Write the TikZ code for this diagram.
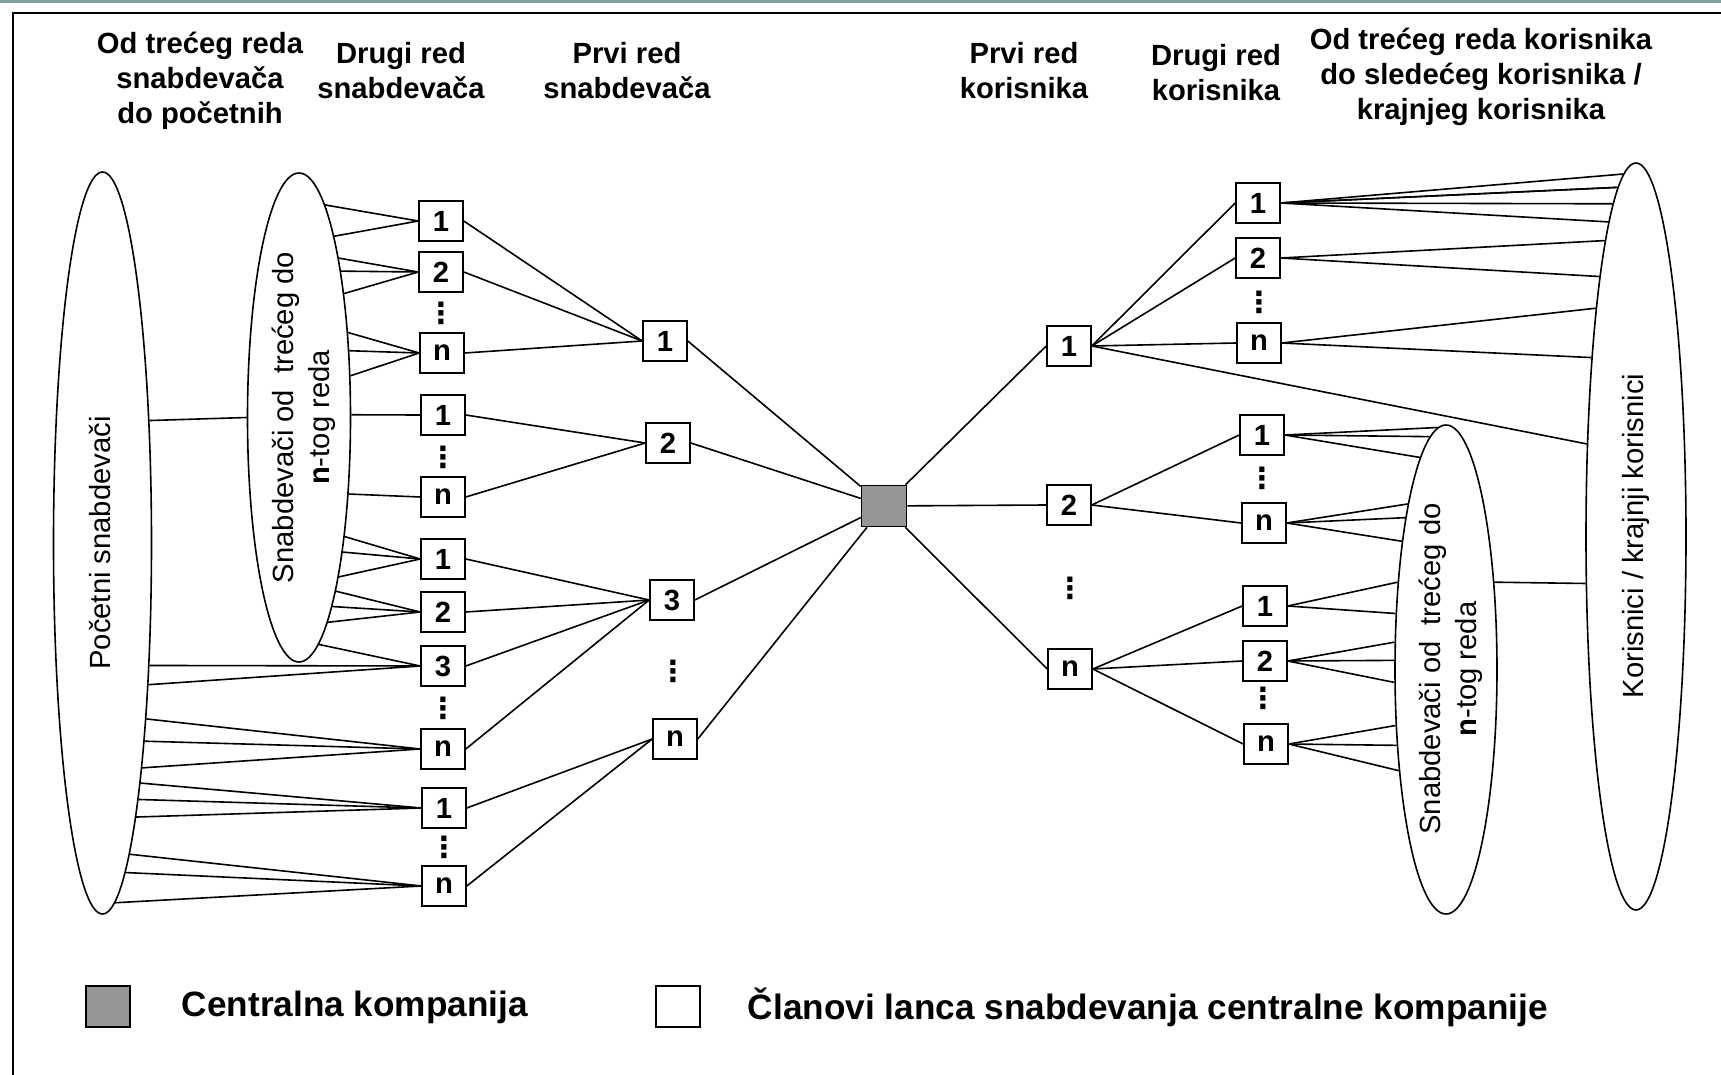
\documentclass[tikz,border=0pt]{standalone}
\usepackage{fontspec}
\setmainfont{Liberation Sans}
\newfontfamily\dotsfont{DejaVu Sans}
\usetikzlibrary{shapes.geometric}

\definecolor{bandcol}{RGB}{125,160,160}
\definecolor{centgray}{RGB}{150,150,150}

% direction (angle) of the border point of an ellipse at height #4
% #1 centre y, #2 x radius, #3 y radius, #5 side (1 east, -1 west)
\newcommand{\ellang}[5]{%
  \pgfmathsetmacro\ea{atan2((#1)-(#4),(#5)*(#2)*sqrt(1-(((#4)-(#1))/(#3))^2))}}
\newcommand{\vdts}{{\dotsfont\bfseries ⋮}}

\begin{document}
\begin{tikzpicture}[x=0.5pt, y=-0.5pt, line width=0.8pt,
  member/.style={draw, fill=white, font=\bfseries\fontsize{14.6}{17}\selectfont,
    minimum width=22pt, minimum height=20pt, inner sep=0pt},
  central/.style={draw, fill=centgray, minimum width=22.5pt, minimum height=20.5pt, inner sep=0pt},
  tier/.style={draw, ellipse, inner sep=0pt},
  head/.style={align=center, font=\bfseries\fontsize{14.6}{17.5}\selectfont},
  elltext/.style={rotate=90, align=center, font=\fontsize{14.6}{18}\selectfont},
  skipdots/.style={inner sep=0pt, font=\fontsize{14.6}{17}\selectfont},
  legendtext/.style={anchor=west, inner sep=0pt, font=\bfseries\fontsize{17.6}{21}\selectfont}]
\useasboundingbox (0,0) rectangle (1721,1075);

% slide band and frame
\fill[bandcol] (0,0) rectangle (1721,3.5);
\draw[line width=0.85pt] (13,1075) -- (13,13) -- (1721,13);

% column heads
\node[head] (h1) at (200,81) {Od trećeg reda\\snabdevača\\do početnih};
\node[head] (h2) at (401,71) {Drugi red\\snabdevača};
\node[head] (h3) at (627,71) {Prvi red\\snabdevača};
\node[head] (h4) at (1024,71) {Prvi red\\korisnika};
\node[head] (h5) at (1216,73) {Drugi red\\korisnika};
\node[head] (h6) at (1481,77) {Od trećeg reda korisnika\\do sledećeg korisnika /\\krajnjeg korisnika};

% ellipses
\node[tier, minimum width=49pt, minimum height=371pt] (ps) at (102.5,543) {};
\node[tier, minimum width=51.5pt, minimum height=244.5pt] (sl) at (299,417.5) {};
\node[tier, minimum width=51pt, minimum height=244.5pt] (sk) at (1446,669.5) {};
\node[tier, minimum width=50pt, minimum height=373.5pt] (ko) at (1636,536.5) {};
\node[elltext] (pst) at (100,543) {Početni snabdevači};
\node[elltext] (slt) at (303.5,417.5) {Snabdevači od~ trećeg do\\\textbf{n}-tog reda};
\node[elltext] (skt) at (1451,669) {Snabdevači od~ trećeg do\\\textbf{n}-tog reda};
\node[elltext] (kot) at (1636,536) {Korisnici / krajnji korisnici};

% second tier suppliers
\node[member] (s2a1) at (441,221) {1};
\node[member] (s2a2) at (441,272) {2};
\node[skipdots] (v1) at (441,313) {\vdts};
\node[member] (s2an) at (442,353) {n};
\node[member] (s2b1) at (443,415) {1};
\node[skipdots] (v2) at (443,457) {\vdts};
\node[member] (s2bn) at (443,497) {n};
\node[member] (s2c1) at (443,559) {1};
\node[member] (s2c2) at (443,612) {2};
\node[member] (s2c3) at (443,666) {3};
\node[skipdots] (v3) at (443,708) {\vdts};
\node[member] (s2cn) at (443,749) {n};
\node[member] (s2d1) at (444,808) {1};
\node[skipdots] (v4) at (444,847) {\vdts};
\node[member] (s2dn) at (444,886) {n};

% first tier suppliers
\node[member] (s1a) at (665,341) {1};
\node[member] (s1b) at (668,443) {2};
\node[member] (s1c) at (672,600) {3};
\node[skipdots] (v5) at (673,671) {\vdts};
\node[member] (s1n) at (675,739) {n};

% central company
\node[central] (cc) at (884,506) {};

% first tier customers
\node[member] (k1a) at (1069,346) {1};
\node[member] (k1b) at (1069,505) {2};
\node[skipdots] (v6) at (1070,588) {\vdts};
\node[member] (k1n) at (1070,669) {n};

% second tier customers
\node[member] (k2a1) at (1258,203) {1};
\node[member] (k2a2) at (1258,258) {2};
\node[skipdots] (v7) at (1259,302) {\vdts};
\node[member] (k2an) at (1259,343) {n};
\node[member] (k2b1) at (1262,435) {1};
\node[skipdots] (v8) at (1262,478) {\vdts};
\node[member] (k2bn) at (1264,523) {n};
\node[member] (k2c1) at (1265,606) {1};
\node[member] (k2c2) at (1265,661) {2};
\node[skipdots] (v9) at (1263,698) {\vdts};
\node[member] (k2cn) at (1266,744) {n};

% links to the central company
\draw (s1a.east) -- (cc);
\draw (s1b.east) -- (cc);
\draw (s1c.east) -- (cc);
\draw (s1n.east) -- (cc);
\draw (cc) -- (k1a.west);
\draw (cc) -- (k1b.west);
\draw (cc) -- (k1n.west);

% second tier to first tier
\foreach \n in {s2a1,s2a2,s2an} \draw (\n.east) -- (s1a.west);
\foreach \n in {s2b1,s2bn} \draw (\n.east) -- (s1b.west);
\foreach \n in {s2c1,s2c2,s2c3,s2cn} \draw (\n.east) -- (s1c.west);
\foreach \n in {s2d1,s2dn} \draw (\n.east) -- (s1n.west);
\foreach \n in {k2a1,k2a2,k2an} \draw (k1a.east) -- (\n.west);
\foreach \n in {k2b1,k2bn} \draw (k1b.east) -- (\n.west);
\foreach \n in {k2c1,k2c2,k2cn} \draw (k1n.east) -- (\n.west);

% fans into the ellipses
\foreach \b/\ys in {s2a1/{203,235}, s2a2/{253,271,293}, s2an/{332,351,375},
    s2b1/{414}, s2bn/{493}, s2c1/{539,556,576}, s2c2/{593,611,628}, s2c3/{648}}
  \foreach \y in \ys {\ellang{417.5}{51.5}{244.5}{\y}{1} \draw (sl.\ea) -- (\b.west);}
\foreach \b/\ys in {s2c3/{667,687}, s2cn/{725,747,770}, s2d1/{787,806,827}, s2dn/{867,886,904}}
  \foreach \y in \ys {\ellang{543}{49}{371}{\y}{1} \draw (ps.\ea) -- (\b.west);}
\ellang{543}{49}{371}{418}{1}
\draw (ps.\ea) -- (sl.west);

\foreach \b/\ys in {k2a1/{179,192,203,218,231}, k2a2/{250,279}, k2an/{324,363}, k1a/{446}}
  \foreach \y in \ys {\ellang{536.5}{50}{373.5}{\y}{-1} \draw (\b.east) -- (ko.\ea);}
\foreach \b/\ys in {k2b1/{430,444,463}, k2bn/{507,523,544}, k2c1/{584,616},
    k2c2/{643,661,682}, k2cn/{723,744,768}}
  \foreach \y in \ys {\ellang{669.5}{51}{244.5}{\y}{-1} \draw (\b.east) -- (sk.\ea);}
\ellang{669.5}{51}{244.5}{582}{1}
\let\eb\ea
\ellang{536.5}{50}{373.5}{582}{-1}
\draw (sk.\eb) -- (ko.\ea);

% legend
\node[central, minimum width=22pt] (lg1) at (108,1006.5) {};
\node[legendtext] (lt1) at (181,1007) {Centralna kompanija};
\node[member, minimum height=20.5pt] (lg2) at (678,1006.5) {};
\node[legendtext] (lt2) at (747,1007) {Članovi lanca snabdevanja centralne kompanije};
\end{tikzpicture}
\end{document}
